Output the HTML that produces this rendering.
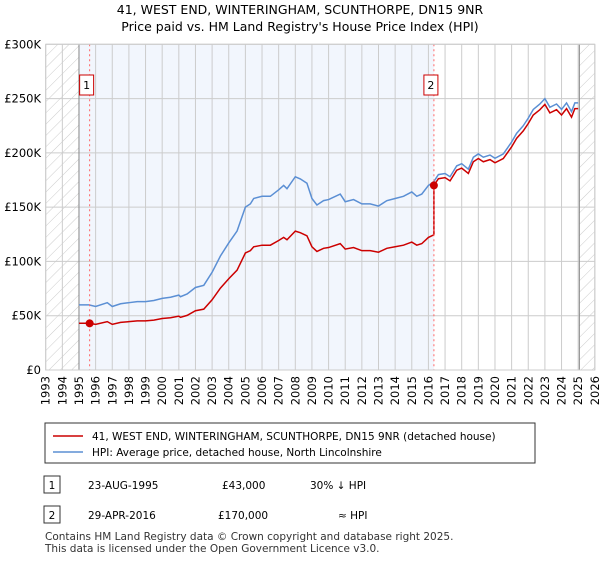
<!DOCTYPE html>
<html><head><meta charset="utf-8"><style>
body{margin:0;background:#fff;font-family:"DejaVu Sans","Liberation Sans",sans-serif;}
svg text{font-family:"DejaVu Sans","Liberation Sans",sans-serif;}
</style></head><body>
<svg id="c" width="600" height="560" xmlns="http://www.w3.org/2000/svg">
<defs><pattern id="h" width="8" height="8" patternUnits="userSpaceOnUse" patternTransform="rotate(45)"><line x1="0" y1="0" x2="0" y2="8" stroke="#ccc" stroke-width="1"/></pattern></defs>
<text x="300" y="14" text-anchor="middle" font-size="12.5">41, WEST END, WINTERINGHAM, SCUNTHORPE, DN15 9NR</text>
<text x="300" y="31" text-anchor="middle" font-size="12.5">Price paid vs. HM Land Registry's House Price Index (HPI)</text>
<g id="plot"></g>
<rect x="45" y="423" width="490" height="40" fill="#fff" stroke="#333"/>
<line x1="53" y1="436" x2="83" y2="436" stroke="#cc0000" stroke-width="1.5"/>
<text x="92" y="440" font-size="10.5">41, WEST END, WINTERINGHAM, SCUNTHORPE, DN15 9NR (detached house)</text>
<line x1="53" y1="452" x2="83" y2="452" stroke="#5b8fd4" stroke-width="1.5"/>
<text x="92" y="456" font-size="10.5">HPI: Average price, detached house, North Lincolnshire</text>
<rect x="44" y="476" width="16" height="17" fill="#fff" stroke="#333"/>
<text x="52" y="489" text-anchor="middle" font-size="10.5">1</text>
<text x="88" y="489" font-size="10.5">23-AUG-1995</text>
<text x="222" y="489" font-size="10.5">£43,000</text>
<text x="310" y="489" font-size="10.5">30% ↓ HPI</text>
<rect x="44" y="506" width="16" height="17" fill="#fff" stroke="#333"/>
<text x="52" y="519" text-anchor="middle" font-size="10.5">2</text>
<text x="88" y="519" font-size="10.5">29-APR-2016</text>
<text x="218" y="519" font-size="10.5">£170,000</text>
<text x="338" y="519" font-size="10.5">≈ HPI</text>
<text x="45" y="540" font-size="10.5" fill="#333">Contains HM Land Registry data © Crown copyright and database right 2025.</text>
<text x="45" y="552" font-size="10.5" fill="#333">This data is licensed under the Open Government Licence v3.0.</text>
</svg>
<script>
const yearTicks=[1993,1994,1995,1996,1997,1998,1999,2000,2001,2002,2003,2004,2005,2006,2007,2008,2009,2010,2011,2012,2013,2014,2015,2016,2017,2018,2019,2020,2021,2022,2023,2024,2025,2026];
const valueTicks=[0,50,100,150,200,250,300];
const valueLabels=["£0","£50K","£100K","£150K","£200K","£250K","£300K"];
const hpiYears=[1995.0,1995.6,1996.0,1996.7,1997.0,1997.5,1998.0,1998.5,1999.0,1999.5,2000.0,2000.5,2001.0,2001.1,2001.5,2002.0,2002.5,2003.0,2003.5,2004.0,2004.5,2005.0,2005.3,2005.5,2006.0,2006.5,2007.0,2007.3,2007.5,2008.0,2008.3,2008.7,2009.0,2009.3,2009.7,2010.0,2010.7,2011.0,2011.5,2012.0,2012.5,2013.0,2013.5,2014.0,2014.5,2015.0,2015.3,2015.6,2016.0,2016.3,2016.6,2017.0,2017.3,2017.7,2018.0,2018.4,2018.7,2019.0,2019.3,2019.7,2020.0,2020.5,2021.0,2021.3,2021.7,2022.0,2022.3,2022.7,2023.0,2023.3,2023.7,2024.0,2024.3,2024.6,2024.8,2025.0];
const hpiValues=[60,60,58.5,62,58.5,61,62,63,63,64,66,67,69,67.5,70,76,78,90,105,117,128,150,153,158,160,160,166,170,167,178,176,172,158,152,156,157,162,155,157,153,153,151,156,158,160,164,160,162,170,173,180,181,178,188,190,185,196,199,196,198,195,199,210,218,225,232,240,245,250,242,245,240,246,238,246,246];
const saleYears=[1995.64,2016.33];
const salePrices=[43,170];
const x0=45.7,yr=16.64,y0=370,ys=325.7/300;
const X=y=>x0+(y-1993)*yr, Y=v=>y0-v*ys;
const g=document.getElementById('plot'),NS='http://www.w3.org/2000/svg';
function el(t,a,p){const e=document.createElementNS(NS,t);for(const k in a)e.setAttribute(k,a[k]);(p||g).appendChild(e);return e;}
const yTop=Y(300);
let e;
e=el('rect',{x:X(1995),y:yTop,width:X(2016.33)-X(1995),height:y0-yTop,fill:'#f2f6fd'});


e=el('rect',{x:X(1993),y:yTop,width:X(1995)-X(1993),height:y0-yTop,fill:'url(#h)'});


e=el('rect',{x:X(2025.07),y:yTop,width:X(2026)-X(2025.07),height:y0-yTop,fill:'url(#h)'});


yearTicks.forEach(y=>{
 e=el('line',{x1:X(y),x2:X(y),y1:yTop,y2:y0,stroke:'#cccccc'});
 
 
 const t=el('text',{x:0,y:0,'font-size':11.5,'text-anchor':'end',transform:`translate(${X(y)+4},${y0+6}) rotate(-90)`});
 t.textContent=y;
 
 
});
valueTicks.forEach((v,i)=>{
 e=el('line',{x1:X(1993),x2:X(2026),y1:Y(v),y2:Y(v),stroke:'#cccccc'});
 
 
 const t=el('text',{x:41,y:Y(v)+4,'font-size':11.5,'text-anchor':'end'});
 t.textContent=valueLabels[i];
 
 
});
e=el('line',{x1:X(1995),x2:X(1995),y1:yTop,y2:y0,stroke:'#888'});


e=el('line',{x1:X(2025.07),x2:X(2025.07),y1:yTop,y2:y0,stroke:'#888'});


function hpiAt(t){for(let i=1;i<hpiYears.length;i++){if(t<=hpiYears[i]){const f=(t-hpiYears[i-1])/(hpiYears[i]-hpiYears[i-1]);return hpiValues[i-1]+f*(hpiValues[i]-hpiValues[i-1]);}}return hpiValues[hpiValues.length-1];}
const r1=salePrices[0]/hpiAt(saleYears[0]), r2=salePrices[1]/hpiAt(saleYears[1]);
let red=[];
hpiYears.forEach((t,i)=>{ if(t<saleYears[1]) red.push([t,hpiValues[i]*r1]); });
red.push([saleYears[1],hpiAt(saleYears[1])*r1]);
red.push([saleYears[1],salePrices[1]]);
hpiYears.forEach((t,i)=>{ if(t>saleYears[1]) red.push([t,hpiValues[i]*r2]); });
e=el('polyline',{points:hpiYears.map((t,i)=>X(t)+','+Y(hpiValues[i])).join(' '),fill:'none',stroke:'#5b8fd4','stroke-width':1.5});


e=el('polyline',{points:red.map(p=>X(p[0])+','+Y(p[1])).join(' '),fill:'none',stroke:'#cc0000','stroke-width':1.5});


saleYears.forEach((t,i)=>{
 e=el('line',{x1:X(t),x2:X(t),y1:yTop,y2:y0,stroke:'#ff6666','stroke-dasharray':'2,3'});
 
 
 e=el('circle',{cx:X(t),cy:Y(salePrices[i]),r:4,fill:'#cc0000'});
 
 
 e=el('rect',{x:X(t)-10,y:75,width:14,height:20,fill:'#fff',stroke:'#cc0000'});
 
 
 const tx=el('text',{x:X(t)-3,y:89,'font-size':11,'text-anchor':'middle'});
 tx.textContent=i+1;
 
 
});
e=el('rect',{x:X(1993),y:yTop,width:X(2026)-X(1993),height:y0-yTop,fill:'none',stroke:'#cccccc'});


</script>
</body></html>
